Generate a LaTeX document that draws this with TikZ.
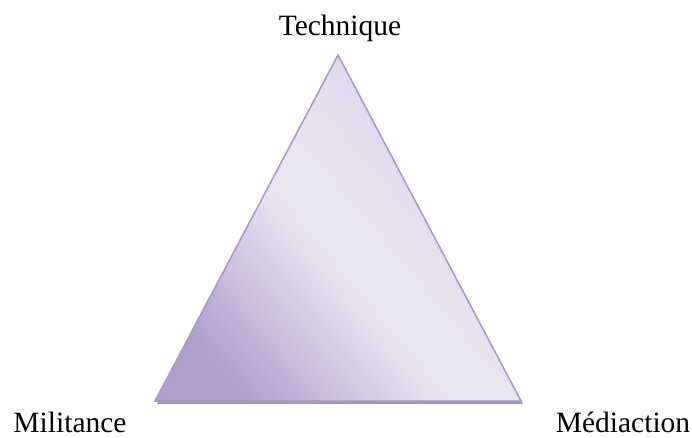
\documentclass[tikz,border=0pt]{standalone}
\usepackage{fontspec}
\setmainfont{Liberation Serif}
\definecolor{triedge}{RGB}{168,150,198}
\definecolor{tridark}{RGB}{176,158,205}
\definecolor{trilight}{RGB}{233,228,241}
\definecolor{trimid}{RGB}{224,216,236}
\definecolor{trishadow}{RGB}{158,156,168}
\pgfdeclarehorizontalshading{trishade}{100bp}{color(0bp)=(tridark); color(24bp)=(tridark);
 color(46bp)=(trilight); color(54bp)=(trilight); color(66bp)=(trimid); color(100bp)=(trimid)}
\begin{document}
\begin{tikzpicture}[x=1pt,y=-1pt,
 pole/.style={font=\fontsize{29.5}{35}\selectfont,anchor=base,inner sep=0pt}]
\useasboundingbox (0,0) rectangle (692,437);
\coordinate (apex) at (338,55);
\coordinate (bl) at (155,401);
\coordinate (br) at (521,401);

% shadow
\fill[trishadow] ([shift={(2,3)}]apex) -- ([shift={(2,3)}]bl) -- ([shift={(2,3)}]br) -- cycle;
% triangle
\shade[shading=trishade,shading angle=40] (apex) -- (bl) -- (br) -- cycle;
\draw[triedge,line width=1.5pt,line join=miter] (apex) -- (bl) -- (br) -- cycle;

\node[pole] (tech) at (340,35) {Technique};
\node[pole] (mil) at (70,432) {Militance};
\node[pole] (med) at (623,432) {Médiaction};
\end{tikzpicture}
\end{document}
